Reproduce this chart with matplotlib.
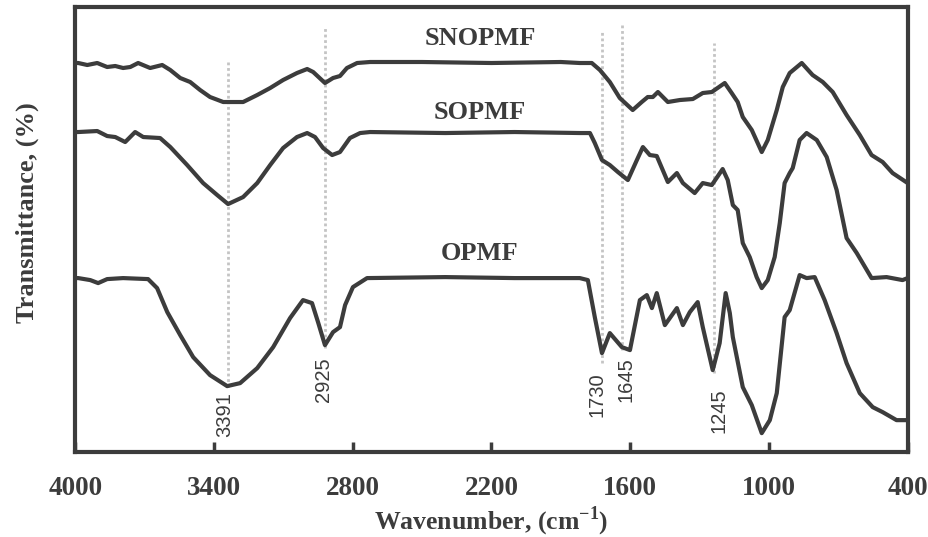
import numpy as np
import matplotlib
matplotlib.use("Agg")
import matplotlib.pyplot as plt

plt.rcParams['font.family'] = ['Liberation Serif', 'DejaVu Serif']
plt.rcParams['mathtext.fontset'] = 'custom'
plt.rcParams['mathtext.rm'] = 'Liberation Serif:bold'

# wavenumber (cm-1) / transmittance (arbitrary, stacked)
snopmf_x = [4000, 3987, 3948, 3905, 3862, 3827, 3793, 3762, 3728, 3676, 3624, 3589,
            3546, 3503, 3460, 3417, 3360, 3274, 3213, 3157, 3101, 3041, 2997, 2971,
            2920, 2885, 2855, 2825, 2781, 2725, 2500, 2200, 1900, 1818, 1766, 1731,
            1688, 1645, 1589, 1550, 1524, 1502, 1480, 1437, 1385, 1329, 1286, 1247,
            1191, 1161, 1135, 1113, 1074, 1031, 1005, 966, 940, 910, 858, 811, 767,
            724, 664, 607, 556, 508, 465, 400]
snopmf_y = [389, 389, 387, 389, 385, 386, 384, 385, 389, 384, 387, 382,
            374, 370, 362, 355, 350, 350, 357, 364, 372, 379, 383, 380,
            369, 374, 376, 384, 389, 390, 390, 389, 390, 389, 389, 382,
            370, 354, 342, 350, 355, 355, 360, 350, 352, 353, 359, 360,
            369, 359, 350, 335, 322, 300, 312, 342, 365, 379, 389, 377, 370,
            360, 337, 317, 297, 290, 279, 269]

sopmf_x = [4000, 3987, 3905, 3862, 3827, 3784, 3741, 3706, 3633, 3589, 3516, 3447,
           3386, 3339, 3274, 3213, 3157, 3101, 3041, 2997, 2963, 2928, 2889, 2855,
           2812, 2768, 2725, 2400, 2100, 1818, 1774, 1753, 1722, 1688, 1653, 1610,
           1571, 1545, 1515, 1485, 1437, 1398, 1372, 1321, 1286, 1247, 1200, 1178,
           1156, 1135, 1113, 1083, 1053, 1031, 1005, 975, 953, 932, 910, 897, 867,
           837, 793, 750, 707, 664, 620, 556, 491, 422, 400]
sopmf_y = [320, 320, 321, 316, 315, 310, 320, 315, 314, 305, 287, 269,
           257, 248, 255, 269, 287, 304, 315, 319, 315, 304, 297, 300,
           314, 319, 320, 319, 320, 319, 319, 309, 292, 287, 280, 272,
           292, 305, 297, 296, 270, 279, 269, 259, 269, 267, 283, 272,
           247, 242, 209, 195, 175, 164, 172, 195, 229, 269, 279, 284, 312,
           319, 312, 295, 262, 214, 199, 174, 175, 172, 174]

opmf_x = [4000, 3987, 3935, 3901, 3862, 3793, 3685, 3646, 3602, 3546, 3490, 3417,
          3343, 3287, 3213, 3144, 3071, 3015, 2976, 2950, 2920, 2885, 2855, 2833,
          2799, 2738, 2400, 2100, 1818, 1783, 1753, 1722, 1688, 1636, 1601, 1558,
          1528, 1506, 1485, 1450, 1398, 1372, 1342, 1308, 1286, 1243, 1213, 1187,
          1169, 1156, 1113, 1074, 1031, 996, 966, 932, 910, 867, 837, 802, 759,
          707, 664, 607, 551, 508, 448, 400]
opmf_y = [174, 174, 172, 169, 173, 174, 173, 164, 140, 117, 95, 77,
          66, 69, 84, 105, 134, 152, 149, 130, 107, 120, 125, 147,
          165, 174, 175, 174, 174, 172, 135, 99, 119, 105, 102, 152,
          157, 144, 159, 127, 144, 127, 140, 150, 125, 82, 109, 159,
          139, 115, 65, 47, 19, 32, 59, 135, 142, 177, 174, 175, 152,
          119, 89, 59, 45, 40, 32, 32]

series_names = ['SNOPMF', 'SOPMF', 'OPMF']
name_y = [413, 340, 199]

peak_labels = ['3391', '2925', '1730', '1645', '1245']
peak_pos = [3340, 2920, 1722, 1636, 1239]
peak_top = [392, 424, 422, 427, 409]
peak_bottom = [65, 104, 89, 102, 79]
label_x = [3352, 2928, 1744, 1619, 1217]
label_y = [60, 95, 80, 95, 64]

dark = '#3c3c3c'

fig, ax = plt.subplots(figsize=(9.29, 5.37), dpi=100)
fig.subplots_adjust(left=0.081, right=0.977, top=0.987, bottom=0.158)

for p, t, b in zip(peak_pos, peak_top, peak_bottom):
    ax.plot([p, p], [b, t], color='#c4c4c4', lw=2.0, ls=(0, (1, 1)), zorder=1)

for xs, ys in [(snopmf_x, snopmf_y), (sopmf_x, sopmf_y), (opmf_x, opmf_y)]:
    ax.plot(xs, ys, color=dark, lw=3.0, solid_joinstyle='round',
            solid_capstyle='round', zorder=3)

for name, y in zip(series_names, name_y):
    ax.text(2250, y, name, ha='center', va='center', fontsize=19,
            fontweight='bold', color=dark)

for lab, x, y in zip(peak_labels, label_x, label_y):
    ax.text(x, y, lab, rotation=90, ha='center', va='top', fontsize=14.5,
            family=['Liberation Sans', 'DejaVu Sans'], color=dark)

ax.set_xlim(4000, 400)
ax.set_ylim(0, 445)
ax.set_xticks([4000, 3400, 2800, 2200, 1600, 1000, 400])
ax.set_yticks([])
ax.tick_params(axis='x', direction='in', length=7, width=2.5, color=dark,
               pad=17, labelsize=19.5, labelcolor=dark)
for lbl in ax.get_xticklabels():
    lbl.set_fontweight('bold')
for sp in ax.spines.values():
    sp.set_linewidth(3.0)
    sp.set_color(dark)

ax.set_xlabel('Wavenumber, (cm$^{-1}$)', fontsize=18.5, fontweight='bold', color=dark)
ax.set_ylabel('Transmittance, (%)', fontsize=19, fontweight='bold', color=dark)
ax.yaxis.set_label_coords(-0.044, 0.537)
ax.xaxis.set_label_coords(0.5, -0.117)

plt.savefig('out.png', dpi=100)
